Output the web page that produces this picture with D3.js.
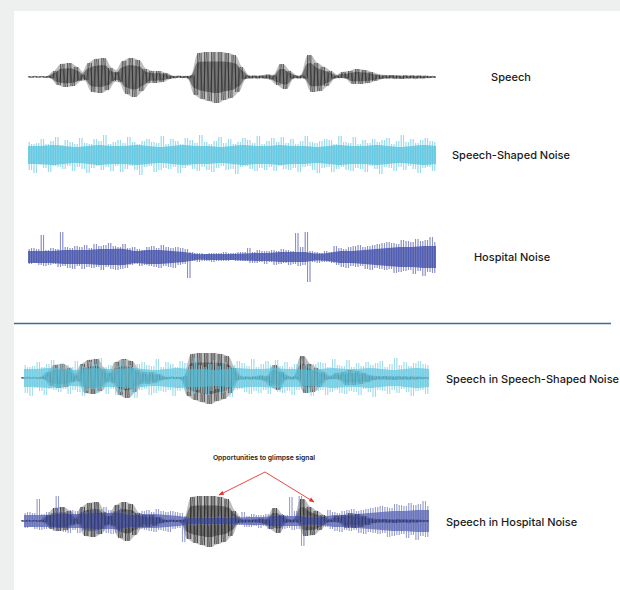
<!DOCTYPE html>
<html>
<head>
<meta charset="utf-8">
<script src="https://cdn.jsdelivr.net/npm/d3@7"></script>
<style>
  body { margin: 0; background: #eef0ef; }
  svg { display: block; }
</style>
</head>
<body>
<div id="chart"></div>
<script>
// peak amplitudes, left to right (signed, px-ish units)
var speech = [0.6, -0.6, 0.8, -0.5, 0.7, -0.6, 0.8, -1.2,
	6, -8, 13, -10, 14, -9, 10, -4, 2, -3,
	14, -15, 18, -16, 19, -13, 9, -4, 5, -5,
	16, -17, 19, -20, 17, -14, 8,
	-6, 6, -6, 6, -5, 4, -2,
	1, -1, 1.2, -1, 1, -1.2, 1.5,
	-18, 24, -22, 25, -24, 25, -26, 25, -23, 24, -21, 22, -15, 10,
	-2, 1.5, -1.5, 1.5, -1.5, 1.5, -1.5, 2.5, -2.5,
	1.5, -8, 13, -12, 6, -1.5, 1.5, -1.5, 1.5, -1.5,
	22, -15, 14, -14, 10, -9, 6, -1.5, 1, -1, 5, -1.5,
	6, -7, 8, -7, 7, -6, 5, -4, 2.5,
	-2, 1.8, -1.5, 2, -1.8, 1.5, -2, 1.8, -1.5, 1.6, -1.8, 1.5, -1.5, 1.2, -1, 0.8, -0.6];

var ssnPeaks = [13, -15, 11, -18, 12, -10, 16, -13, 11, -17,
	14, -11, 18, -12, 10, -14, 15, -11, 13, -16,
	11, -12, 17, -14, 12, -18, 11, -13, 16, -11,
	14, -15, 20, -12, 11, -16, 13, -11, 15, -17,
	12, -14, 18, -11, 13, -15, 11, -20, 14, -12,
	16, -11, 13, -17, 12, -15, 19, -13, 11, -14,
	16, -12, 14, -18, 11, -13, 17, -11, 15, -14,
	12, -16, 20, -12, 13, -15, 11, -17, 14, -13,
	18, -11, 12, -15, 16, -14, 11, -19, 13, -12,
	17, -11, 15, -14, 12, -16, 19, -13, 11, -15,
	14, -12, 17, -16, 13, -11, 18, -14, 12, -15,
	16, -13, 11, -17, 14, -12, 19, -11, 13, -15,
	12, -18, 14, -13, 16, -12, 15, -17, 11, -14,
	19, -12, 13, -15, 12, -16, 18, -13, 11, -14,
	15, -17, 12, -11, 16, -14, 13, -19, 15, -12,
	17, -13, 11, -16, 14, -12, 20, -15, 13, -11,
	16, -14, 12, -18, 15, -13, 17, -12, 14, -16, 13];
var ssnBand = [9, 9, 10, 9, 8, 9, 10, 9, 9, 10, 9, 8, 9, 10, 9, 9, 8, 9,
	10, 9, 9, 10, 9, 9, 8, 9, 10, 9, 9, 10, 9, 8, 9, 10, 9];

var hospPeaks = [8, -7, 9, -6, 8, -8, 22, -9, 7, -8,
	9, -7, 8, -10, 25, -9, 10, -11, 9, -12,
	11, -9, 10, -12, 12, -10, 9, -11, 13, -10,
	11, -13, 12, -10, 14, -12, 11, -13, 10, -12,
	13, -11, 9, -8, 10, -7, 8, -9, 7, -8,
	10, -9, 11, -10, 9, -11, 12, -9, 10, -10,
	9, -11, 10, -8, 9, -7, 8, -21, 5, -4,
	4, -5, 4, -4, 3, -4, 4, -5, 4, -4,
	4, -4, 5, -4, 4, -3, 4, -4, 5, -4,
	5, -4, 9, -6, 5, -6, 7, -5, 6, -7,
	6, -5, 7, -8, 6, -7, 8, -6, 7, -8,
	6, -7, 24, -9, 10, -8, 25, -25, 6, -5,
	5, -6, 4, -5, 6, -5, 5, -6, 11, -8,
	9, -10, 8, -11, 10, -9, 11, -10, 12, -9,
	10, -12, 11, -13, 12, -11, 13, -12, 14, -13,
	15, -12, 14, -16, 13, -15, 17, -14, 16, -13,
	15, -17, 18, -14, 16, -19, 17, -15, 20, -16, 15];
var hospBand = [6, 6, 6, 7, 7, 7, 8, 8, 8, 6, 7, 7, 6, 5, 3, 3, 3, 3,
	3.5, 4, 4, 5, 5, 5, 3.5, 4, 6, 6, 7, 8, 9, 10, 10, 11, 11];

var rowLabels = ['Speech', 'Speech-Shaped Noise', 'Hospital Noise',
	'Speech in Speech-Shaped Noise', 'Speech in Hospital Noise'];
var noteText = 'Opportunities to glimpse signal';

var svg = d3.select('#chart').append('svg')
	.attr('width', 620)
	.attr('height', 590);

svg.append('rect')
	.attr('x', 14)
	.attr('y', 11)
	.attr('width', 606)
	.attr('height', 579)
	.style('fill', '#fff');

var defs = svg.append('defs');
defs.append('marker')
	.attr('id', 'head')
	.attr('viewBox', '0 0 10 10')
	.attr('refX', 9)
	.attr('refY', 5)
	.attr('markerWidth', 6)
	.attr('markerHeight', 6)
	.attr('orient', 'auto')
	.append('path')
	.attr('d', 'M0,1 L10,5 L0,9 Z')
	.style('fill', '#e8322b');

function xScale(data, x0, x1) {
	return d3.scaleLinear().domain([0, data.length - 1]).range([x0, x1]);
}

function yScale(cy) {
	return d3.scaleLinear().domain([-30, 30]).range([cy + 30, cy - 30]);
}

function envelope(data, k) {
	return data.map(function(d, i) {
		var w = data.slice(Math.max(0, i - 1), i + 2);
		return {
			hi: k * d3.max(w, function(v) { return Math.max(v, 0.6); }),
			lo: k * d3.min(w, function(v) { return Math.min(v, -0.6); })
		};
	});
}

// one vertical stroke per pair of neighbouring peaks
function stems(g, data, x, y, color, width, op) {
	g.append('g').selectAll('line')
		.data(d3.pairs(data))
		.enter().append('line')
		.attr('x1', function(d, i) { return x(i + 0.5); })
		.attr('x2', function(d, i) { return x(i + 0.5); })
		.attr('y1', function(d) { return y(d3.max(d)); })
		.attr('y2', function(d) { return y(d3.min(d)); })
		.style('stroke', color)
		.style('stroke-width', width)
		.style('opacity', op);
}

function zigzag(g, data, x, y, color, width, op) {
	g.append('path')
		.datum(data)
		.attr('d', d3.line()
			.x(function(d, i) { return x(i); })
			.y(function(d) { return y(d); }))
		.style('fill', 'none')
		.style('stroke', color)
		.style('stroke-width', width)
		.style('opacity', op);
}

function envArea(g, env, x, y, color, op) {
	g.append('path')
		.datum(env)
		.attr('d', d3.area()
			.x(function(d, i) { return x(i); })
			.y0(function(d) { return y(d.lo); })
			.y1(function(d) { return y(d.hi); })
			.curve(d3.curveBasis))
		.style('fill', color)
		.style('opacity', op);
}

function drawSpeech(g, x0, x1, cy, dark) {
	var x = xScale(speech, x0, x1), y = yScale(cy);
	envArea(g, envelope(speech, 1), x, y, '#b3b3b3', 0.85);
	envArea(g, envelope(speech, 0.62), x, y, '#2b2b2b', dark);
	stems(g, speech, x, y, '#111', 0.8, 0.75);
	zigzag(g, speech, x, y, '#222', 0.6, 0.6);
}

function drawNoise(g, peaks, band, x0, x1, cy, light, core, op) {
	var xp = xScale(peaks, x0, x1), xb = xScale(band, x0, x1), y = yScale(cy);
	var layer = g.append('g').style('opacity', op);
	stems(layer, peaks, xp, y, light, 0.9, 0.9);
	layer.append('path')
		.datum(band)
		.attr('d', d3.area()
			.x(function(d, i) { return xb(i); })
			.y0(function(d) { return y(-d); })
			.y1(function(d) { return y(d); })
			.curve(d3.curveCatmullRom))
		.style('fill', core)
		.style('opacity', 0.75);
	stems(layer, peaks, xp, y, core, 0.6, 0.55);
}

var plot = svg.append('g');

// top three rows
drawSpeech(plot, 28, 436, 77, 0.5);
drawNoise(plot, ssnPeaks, ssnBand, 28, 436, 155, '#9fdcef', '#55c3de', 1);
drawNoise(plot, hospPeaks, hospBand, 28, 436, 257, '#8e95d0', '#3b4aa6', 1);

// divider
plot.append('line')
	.attr('x1', 14)
	.attr('y1', 323.5)
	.attr('x2', 611)
	.attr('y2', 323.5)
	.style('stroke', '#3a6c9c')
	.style('stroke-width', 1.5);

// mixtures
drawSpeech(plot, 21, 429, 378, 0.4);
drawNoise(plot, ssnPeaks, ssnBand, 24, 429, 378, '#9fdcef', '#55c3de', 0.9);

drawSpeech(plot, 21, 429, 521, 0.5);
drawNoise(plot, hospPeaks, hospBand, 24, 429, 521, '#8e95d0', '#3b4aa6', 0.85);
stems(plot, speech, xScale(speech, 21, 429), yScale(521), '#111', 0.8, 0.35);

var labelPos = [[511, 77, 'middle'], [511, 155, 'middle'], [512, 257, 'middle'], [446, 379, 'start'], [446, 522, 'start']];
svg.selectAll('text.row')
	.data(rowLabels)
	.enter().append('text')
	.attr('class', 'row')
	.attr('x', function(d, i) { return labelPos[i][0]; })
	.attr('y', function(d, i) { return labelPos[i][1]; })
	.attr('dy', '0.35em')
	.attr('text-anchor', function(d, i) { return labelPos[i][2]; })
	.style('font-family', 'Inter, "Noto Sans", sans-serif')
	.style('font-size', '11px')
	.style('font-weight', 500)
	.style('fill', '#1a1a1a')
	.text(function(d) { return d; });

svg.append('text')
	.attr('x', 264)
	.attr('y', 458)
	.attr('dy', '0.35em')
	.attr('text-anchor', 'middle')
	.style('font-family', 'Inter, "Noto Sans", sans-serif')
	.style('font-size', '6.8px')
	.style('font-weight', 600)
	.style('fill', '#1a1a1a')
	.text(noteText);

[[219, 495], [314, 502]].forEach(function(p) {
	svg.append('line')
		.attr('x1', 265)
		.attr('y1', 472)
		.attr('x2', p[0])
		.attr('y2', p[1])
		.style('stroke', '#e8322b')
		.style('stroke-width', 0.9)
		.attr('marker-end', 'url(#head)');
});
</script>
</body>
</html>
